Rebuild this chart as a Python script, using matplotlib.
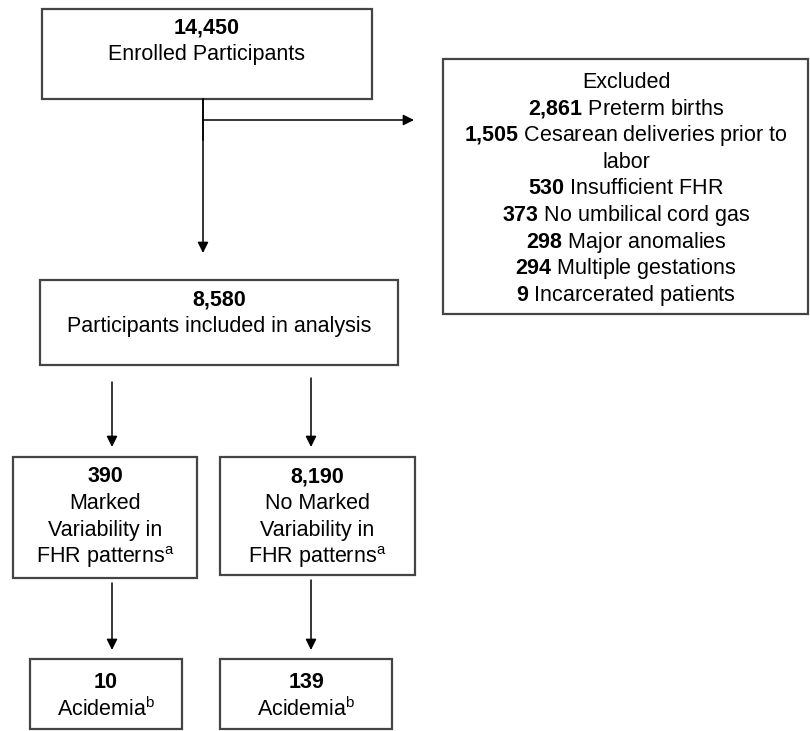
import matplotlib.pyplot as plt
from matplotlib.patches import Rectangle

plt.rcParams['font.family'] = ['Liberation Sans', 'DejaVu Sans']
plt.rcParams['mathtext.fontset'] = 'custom'
plt.rcParams['mathtext.rm'] = 'Liberation Sans'
plt.rcParams['mathtext.bf'] = 'Liberation Sans:bold'

# flowchart counts and labels
enrolled_n = "14,450"
enrolled_label = "Enrolled Participants"
excluded_title = "Excluded"
excluded_counts = ["2,861", "1,505", "530", "373", "298", "294", "9"]
excluded_reasons = ["Preterm births", "Cesarean deliveries prior to\nlabor",
                    "Insufficient FHR", "No umbilical cord gas", "Major anomalies",
                    "Multiple gestations", "Incarcerated patients"]
analysis_n = "8,580"
analysis_label = "Participants included in analysis"
group_n = ["390", "8,190"]
group_label = [["Marked", "Variability in", "FHR patterns"],
               ["No Marked", "Variability in", "FHR patterns"]]
acidemia_n = ["10", "139"]
acidemia_label = "Acidemia"

FS = 15.5
ROW = 26.7
EDGE = '#444444'

fig = plt.figure(figsize=(8.1, 7.31), dpi=100)
ax = fig.add_axes([0, 0, 1, 1])
ax.set_xlim(0, 810)
ax.set_ylim(731, 0)
ax.axis('off')


def box(x0, y0, x1, y1):
    ax.add_patch(Rectangle((x0, y0), x1 - x0, y1 - y0, fill=False,
                           edgecolor=EDGE, lw=1.6))


def arrow(x0, y0, x1, y1):
    ax.annotate('', xy=(x1, y1), xytext=(x0, y0),
                arrowprops=dict(arrowstyle='-|>', color='black', lw=1.1,
                                mutation_scale=16, shrinkA=0, shrinkB=0))


def lines(cx, y_first, rows, bold_first=True):
    for i, r in enumerate(rows):
        w = 'bold' if (i == 0 and bold_first) else 'normal'
        ax.text(cx, y_first + i * ROW, r, ha='center', va='center',
                fontsize=FS, fontweight=w)


# enrolled
box(42, 9, 372, 99)
lines(207, 28, [enrolled_n, enrolled_label])

# exclusions
exc_rows = [excluded_title]
for n, reason in zip(excluded_counts, excluded_reasons):
    parts = reason.split("\n")
    exc_rows.append(r"$\mathbf{" + n.replace(",", "{,}") + "}$ " + parts[0])
    exc_rows.extend(parts[1:])
box(443, 59, 808, 314)
lines(626, 82, exc_rows, bold_first=False)

ax.plot([203, 203], [99, 140], color='black', lw=1.1)
arrow(203, 99, 203, 253)
arrow(203, 120, 414, 120)

# analysed
box(40, 280, 398, 365)
lines(219, 300, [analysis_n, analysis_label])

arrow(112, 382, 112, 447)
arrow(311, 378, 311, 447)

# FHR groups
group_box = [(13, 457, 197, 578), (220, 457, 415, 575)]
for (x0, y0, x1, y1), n, lab in zip(group_box, group_n, group_label):
    box(x0, y0, x1, y1)
    rows = [n] + lab[:-1] + [lab[-1] + r"$^{\mathrm{a}}$"]
    lines((x0 + x1) / 2, 477, rows)

arrow(112, 583, 112, 650)
arrow(311, 580, 311, 650)

# acidemia
acid_box = [(30, 659, 182, 729), (220, 659, 392, 729)]
for (x0, y0, x1, y1), n in zip(acid_box, acidemia_n):
    box(x0, y0, x1, y1)
    lines((x0 + x1) / 2, 682, [n, acidemia_label + r"$^{\mathrm{b}}$"])

fig.savefig('out.png', dpi=100)
